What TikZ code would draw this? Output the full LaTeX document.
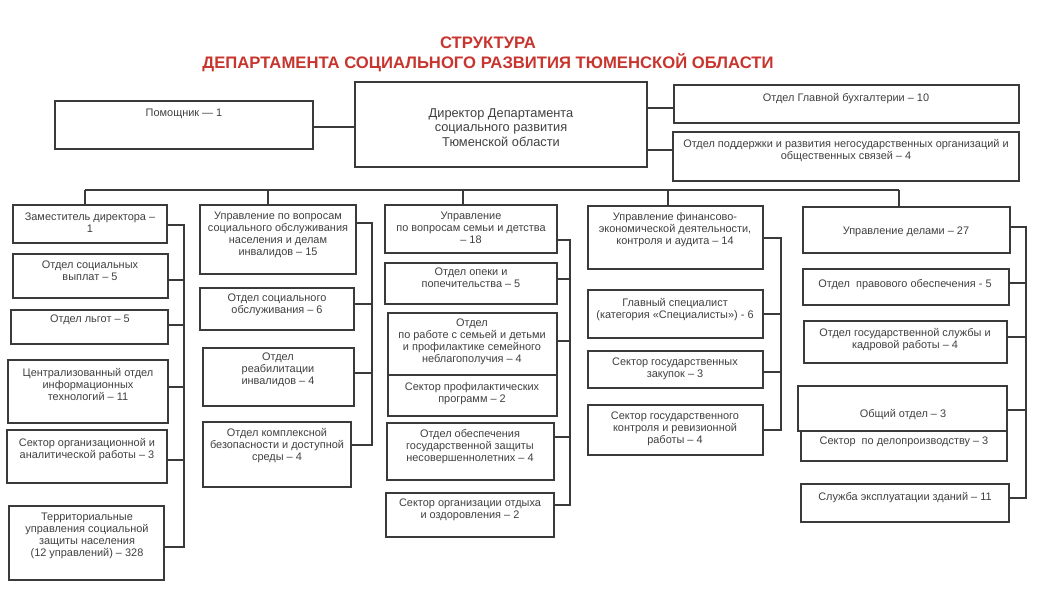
\documentclass[tikz,border=0pt]{standalone}
\usepackage{fontspec}
\setmainfont{Liberation Sans}
\definecolor{ttl}{HTML}{C8352F}
\definecolor{ink}{HTML}{404040}
\definecolor{edge}{HTML}{3A3A3A}
\newcommand\bx[5]{\node[box, minimum width={(#4-#2)*0.75pt}, minimum height={(#5-#3)*0.75pt}] (#1) at (#2,#3) {};}
\newcommand\tx[4]{\node[txt] (#1) at (#2,#3) {#4};}
\begin{document}
\begin{tikzpicture}[x=0.75pt,y=-0.75pt,
  box/.style={draw=edge, line width=0.9pt, inner sep=0pt, outer sep=0pt, anchor=north west},
  txt/.style={anchor=north, inner sep=0pt, align=center, text=ink, font=\fontsize{8.2}{9}\selectfont, yshift=3pt},
  ttlnode/.style={text=ttl, font=\fontsize{12.5}{14}\selectfont\bfseries, inner sep=0pt},
  conn/.style={draw=edge, line width=0.8pt}]
\useasboundingbox (0,0) rectangle (1044,592);
\fill[white] (0,0) rectangle (1044,592);

% title
\node[ttlnode] (t1) at (488,43) {СТРУКТУРА};
\node[ttlnode] (t2) at (488,63) {ДЕПАРТАМЕНТА СОЦИАЛЬНОГО РАЗВИТИЯ ТЮМЕНСКОЙ ОБЛАСТИ};

% top row
\bx{pom}{55}{101}{313}{149}
\tx{tpom}{184}{113}{Помощник — 1}
\bx{dir}{355}{82}{647}{167}
\node[txt, font=\fontsize{9.6}{11}\selectfont] (tdir) at (501,112) {Директор Департамента\\социального развития\\Тюменской области};
\bx{buh}{674}{85}{1019}{123}
\tx{tbuh}{846}{97}{Отдел Главной бухгалтерии – 10}
\bx{ngo}{673}{132}{1019}{181}
\tx{tngo}{846}{143}{Отдел поддержки и развития негосударственных организаций и\\общественных связей – 4}

\draw[conn] (pom.east |- 0,127) -- (dir.west |- 0,127);
\draw[conn] (dir.east |- 0,108) -- (buh.west |- 0,108);
\draw[conn] (dir.east |- 0,150) -- (ngo.west |- 0,150);

% column 1
\bx{c1a}{13}{205}{167}{243}
\tx{tc1a}{90}{217}{Заместитель директора –\\1}
\bx{c1b}{13}{254}{168}{298}
\tx{tc1b}{90}{265}{Отдел социальных\\выплат – 5}
\bx{c1c}{11}{310}{168}{344}
\tx{tc1c}{90}{319}{Отдел льгот – 5}
\bx{c1d}{8}{360}{168}{423}
\tx{tc1d}{88}{372}{Централизованный отдел\\информационных\\технологий – 11}
\bx{c1e}{7}{430}{167}{483}
\tx{tc1e}{87}{442}{Сектор организационной и\\аналитической работы – 3}
\bx{c1f}{9}{506}{164}{580}
\tx{tc1f}{87}{517}{Территориальные\\управления социальной\\защиты населения\\(12 управлений) – 328}

% column 2
\bx{c2a}{200}{205}{356}{274}
\tx{tc2a}{278}{216}{Управление по вопросам\\социального обслуживания\\населения и делам\\инвалидов – 15}
\bx{c2b}{200}{288}{354}{330}
\tx{tc2b}{277}{298}{Отдел социального\\обслуживания – 6}
\bx{c2c}{203}{348}{354}{406}
\tx{tc2c}{278}{357}{Отдел\\реабилитации\\инвалидов – 4}
\bx{c2d}{203}{422}{351}{487}
\tx{tc2d}{277}{432}{Отдел комплексной\\безопасности и доступной\\среды – 4}

% column 3
\bx{c3a}{385}{205}{557}{253}
\tx{tc3a}{471}{216}{Управление\\по вопросам семьи и детства\\– 18}
\bx{c3b}{385}{263}{557}{304}
\tx{tc3b}{471}{272}{Отдел опеки и\\попечительства – 5}
\bx{c3c}{388}{313}{557}{375}
\tx{tc3c}{472}{323}{Отдел\\по работе с семьей и детьми\\и профилактике семейного\\неблагополучия – 4}
\bx{c3d}{388}{375}{557}{416}
\tx{tc3d}{472}{386}{Сектор профилактических\\программ – 2}
\bx{c3e}{387}{423}{554}{480}
\tx{tc3e}{470}{433}{Отдел обеспечения\\государственной защиты\\несовершеннолетних – 4}
\bx{c3f}{386}{493}{554}{537}
\tx{tc3f}{470}{503}{Сектор организации отдыха\\и оздоровления – 2}

% column 4
\bx{c4a}{588}{206}{763}{269}
\tx{tc4a}{675}{216}{Управление финансово-\\экономической деятельности,\\контроля и аудита – 14}
\bx{c4b}{588}{290}{763}{338}
\tx{tc4b}{675}{302}{Главный специалист\\(категория «Специалисты») - 6}
\bx{c4c}{588}{351}{763}{388}
\tx{tc4c}{675}{362}{Сектор государственных\\закупок – 3}
\bx{c4d}{588}{405}{763}{455}
\tx{tc4d}{675}{416}{Сектор государственного\\контроля и ревизионной\\работы – 4}

% column 5
\bx{c5a}{803}{207}{1010}{253}
\tx{tc5a}{906}{231}{Управление делами – 27}
\bx{c5b}{803}{269}{1009}{305}
\tx{tc5b}{905}{283}{Отдел\ \ правового обеспечения - 5}
\bx{c5c}{804}{321}{1007}{363}
\tx{tc5c}{905}{332}{Отдел государственной службы и\\кадровой работы – 4}
\bx{c5e}{801}{431}{1007}{461}
\tx{tc5e}{904}{441}{Сектор\ \ по делопроизводству – 3}
\bx{c5d}{798}{386}{1007}{431}
\tx{tc5d}{903}{413}{Общий отдел – 3}
\bx{c5f}{801}{484}{1009}{522}
\tx{tc5f}{905}{496}{Служба эксплуатации зданий – 11}

% bus and drops
\coordinate (b1) at (85,190);
\coordinate (b2) at (268,190);
\coordinate (b3) at (463,190);
\coordinate (b4) at (668,190);
\coordinate (b5) at (899,190);
\draw[conn] (b1) -- (b5);
\draw[conn] (b1) -- (b1 |- c1a.north);
\draw[conn] (b2) -- (b2 |- c2a.north);
\draw[conn] (b3) -- (b3 |- c3a.north);
\draw[conn] (b4) -- (b4 |- c4a.north);
\draw[conn] (b5) -- (b5 |- c5a.north);

% column 1 connectors
\coordinate (v1t) at (184,225);
\coordinate (v1b) at (184,547);
\draw[conn] (c1a.east |- v1t) -- (v1t) -- (v1b) -- (c1f.east |- v1b);
\draw[conn] (c1b.east |- 0,280) -- (v1t |- 0,280);
\draw[conn] (c1c.east |- 0,325) -- (v1t |- 0,325);
\draw[conn] (c1d.east |- 0,387) -- (v1t |- 0,387);
\draw[conn] (c1e.east |- 0,460) -- (v1t |- 0,460);

% column 2 connectors
\coordinate (v2t) at (372,223);
\coordinate (v2b) at (372,445);
\draw[conn] (c2a.east |- v2t) -- (v2t) -- (v2b) -- (c2d.east |- v2b);
\draw[conn] (c2b.east |- 0,304) -- (v2t |- 0,304);
\draw[conn] (c2c.east |- 0,373) -- (v2t |- 0,373);

% column 3 connectors
\coordinate (v3t) at (570,240);
\coordinate (v3b) at (570,505);
\draw[conn] (c3a.east |- v3t) -- (v3t) -- (v3b) -- (c3f.east |- v3b);
\draw[conn] (c3b.east |- 0,279) -- (v3t |- 0,279);
\draw[conn] (c3c.east |- 0,341) -- (v3t |- 0,341);
\draw[conn] (c3e.east |- 0,437) -- (v3t |- 0,437);

% column 4 connectors
\coordinate (v4t) at (781,238);
\coordinate (v4b) at (781,430);
\draw[conn] (c4a.east |- v4t) -- (v4t) -- (v4b) -- (c4d.east |- v4b);
\draw[conn] (c4b.east |- 0,314) -- (v4t |- 0,314);
\draw[conn] (c4c.east |- 0,372) -- (v4t |- 0,372);

% column 5 connectors
\coordinate (v5t) at (1026,227);
\coordinate (v5b) at (1026,498);
\draw[conn] (c5a.east |- v5t) -- (v5t) -- (v5b) -- (c5f.east |- v5b);
\draw[conn] (c5b.east |- 0,283) -- (v5t |- 0,283);
\draw[conn] (c5c.east |- 0,337) -- (v5t |- 0,337);
\draw[conn] (c5d.east |- 0,410) -- (v5t |- 0,410);
\end{tikzpicture}
\end{document}
